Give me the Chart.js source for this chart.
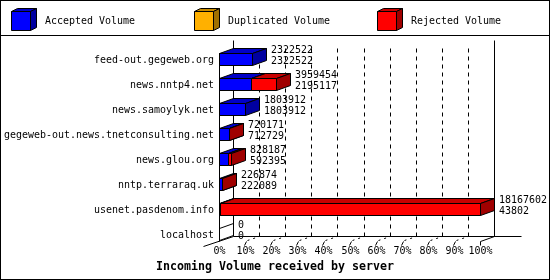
<!DOCTYPE html>
<html><head><meta charset="utf-8">
<script src="https://cdn.jsdelivr.net/npm/chart.js@4.4.1/dist/chart.umd.min.js"></script>
<style>html,body{margin:0;padding:0;background:#fff;}canvas{display:block;}</style>
</head><body>
<canvas id="c" width="550" height="280"></canvas>
<script>
const categories = ['feed-out.gegeweb.org','news.nntp4.net','news.samoylyk.net','gegeweb-out.news.tnetconsulting.net','news.glou.org','nntp.terraraq.uk','usenet.pasdenom.info','localhost'];
const totalVolume = [2322522, 3959454, 1803912, 720171, 828187, 226874, 18167602, 0];
const acceptedVolume = [2322522, 2195117, 1803912, 712729, 592395, 222089, 43802, 0];
const duplicatedVolume = [0, 0, 0, 0, 0, 0, 0, 0];
const rejectedVolume = [0, 1764337, 0, 7442, 235792, 4785, 18123800, 0];
const seriesLabels = ['Accepted Volume', 'Duplicated Volume', 'Rejected Volume'];
const tickLabels = ['0%','10%','20%','30%','40%','50%','60%','70%','80%','90%','100%'];
const axisTitle = 'Incoming Volume received by server';

const FRONT = ['#0000ff', '#ffb000', '#ff0000'];
const TOP = ['#0000c8', '#c88c00', '#c80000'];
const SIDE = ['#0000a0', '#a07000', '#a00000'];
const DX = 14, DY = -5;
const maxTotal = Math.max(...totalVolume);

function poly(ctx, pts, fill) {
  ctx.beginPath();
  pts.forEach((p, k) => k ? ctx.lineTo(p[0] + .5, p[1] + .5) : ctx.moveTo(p[0] + .5, p[1] + .5));
  ctx.closePath();
  if (fill) { ctx.fillStyle = fill; ctx.fill(); }
  ctx.strokeStyle = '#000'; ctx.lineWidth = 1; ctx.setLineDash([]); ctx.stroke();
}
function seg(ctx, x0, y0, x1, y1, dash) {
  ctx.beginPath();
  ctx.moveTo(x0 + .5, y0 + .5); ctx.lineTo(x1 + .5, y1 + .5);
  ctx.strokeStyle = '#000'; ctx.lineWidth = 1; ctx.setLineDash(dash || []);
  ctx.stroke(); ctx.setLineDash([]);
}
function box(ctx, x0, x1, yt, yb, i, dx, dy) {
  poly(ctx, [[x0, yt], [x1, yt], [x1, yb], [x0, yb]], FRONT[i]);
  poly(ctx, [[x0, yt], [x0 + dx, yt + dy], [x1 + dx, yt + dy], [x1, yt]], TOP[i]);
  poly(ctx, [[x1, yt], [x1 + dx, yt + dy], [x1 + dx, yb + dy], [x1, yb]], SIDE[i]);
}
// monospace text, 6px per character (or 7 for bold), drawn slightly condensed
function txt(ctx, s, x, y, align, bold) {
  const size = bold ? 12.5 : 11;
  const cw = bold ? 7 : 6;
  ctx.save();
  ctx.font = (bold ? 'bold ' : '') + size + 'px "DejaVu Sans Mono", monospace';
  ctx.textBaseline = 'middle';
  ctx.textAlign = 'left';
  const w = ctx.measureText(s).width;
  const target = s.length * cw;
  const sx = target / w;
  let left = x;
  if (align === 'right') left = x - target;
  else if (align === 'center') left = x - target / 2;
  ctx.translate(left, y);
  ctx.scale(sx, 1);
  ctx.fillStyle = '#000';
  ctx.fillText(s, 0, 0);
  ctx.restore();
}

const plugin3d = {
  id: 'plugin3d',
  beforeDraw(chart) {
    const ctx = chart.ctx;
    ctx.save();
    ctx.fillStyle = '#fff'; ctx.fillRect(0, 0, 550, 280);
    ctx.strokeStyle = '#000'; ctx.lineWidth = 1;
    ctx.strokeRect(0.5, 0.5, 549, 279);
    seg(ctx, 0, 35, 549, 35);
    chart.data.datasets.forEach((ds, i) => {
      const lx = 11 + i * 183;
      box(ctx, lx, lx + 19, 11, 30, i, 6, -3);
      txt(ctx, ds.label, lx + 34, 21, 'left');
    });
    ctx.restore();
  },
  beforeDatasetsDraw(chart) {
    const ctx = chart.ctx;
    const xs = chart.scales.x;
    const ca = chart.chartArea;
    ctx.save();
    const fx = k => Math.round(xs.getPixelForValue(maxTotal * k / 10));
    const floorY = 241;
    const backTop = 40;
    const x0 = fx(0), x10 = fx(10);
    // back wall
    seg(ctx, x0 + DX, backTop, x0 + DX, floorY + DY);
    seg(ctx, x10 + DX, backTop, x10 + DX, floorY + DY);
    for (let k = 1; k < 10; k++) {
      seg(ctx, fx(k) + DX, backTop + 8, fx(k) + DX, floorY + DY, [4, 4]);
    }
    // floor
    seg(ctx, x0 + DX, floorY + DY, 521, floorY + DY);
    seg(ctx, x0 - 16, floorY + 5, x0 + DX, floorY + DY);
    for (let k = 1; k < 10; k++) {
      const x = fx(k);
      seg(ctx, x - 1, floorY + 4, x + 1, floorY);
      seg(ctx, x + 2, floorY - 1, x + DX, floorY + DY, [2, 4]);
    }
    seg(ctx, x10, floorY, x10, floorY + 4);
    seg(ctx, x10, floorY, x10 + DX, floorY + DY);
    // front left axis
    seg(ctx, x0, Math.round(ca.top) + 6, x0, floorY);
    // bars
    const metas = chart.data.datasets.map((d, i) => chart.getDatasetMeta(i));
    categories.forEach((c, j) => {
      const yc = metas[0].data[j].y;
      const yt = Math.round(yc - 6), yb = yt + 12;
      if (totalVolume[j] === 0) {
        const bx = Math.round(metas[0].data[j].base);
        poly(ctx, [[bx, yt], [bx + DX, yt + DY], [bx + DX, yb + DY], [bx, yb]], null);
        return;
      }
      metas.forEach((m, i) => {
        const v = chart.data.datasets[i].data[j];
        if (!(v > 0)) return;
        const el = m.data[j];
        box(ctx, Math.round(el.base), Math.round(el.x), yt, yb, i, DX, DY);
      });
    });
    ctx.restore();
    return false;
  },
  afterDraw(chart) {
    const ctx = chart.ctx;
    const xs = chart.scales.x, ys = chart.scales.y;
    categories.forEach((c, j) => {
      txt(ctx, c, 214, Math.round(ys.getPixelForValue(j)) + 1, 'right');
    });
    categories.forEach((c, j) => {
      const yt = Math.round(ys.getPixelForValue(j) - 6);
      const x = Math.round(xs.getPixelForValue(totalVolume[j])) + DX + 5;
      txt(ctx, String(totalVolume[j]), x, yt - 3, 'left');
      txt(ctx, String(acceptedVolume[j]), x, yt + 8, 'left');
    });
    tickLabels.forEach((t, k) => {
      const x = Math.round(xs.getPixelForValue(maxTotal * k / 10));
      txt(ctx, t, x + 0.5, 251, 'center');
    });
    txt(ctx, axisTitle, 275, 267, 'center', true);
  }
};

new Chart(document.getElementById('c'), {
  type: 'bar',
  data: {
    labels: categories,
    datasets: [
      { label: seriesLabels[0], data: acceptedVolume, backgroundColor: FRONT[0] },
      { label: seriesLabels[1], data: duplicatedVolume, backgroundColor: FRONT[1] },
      { label: seriesLabels[2], data: rejectedVolume, backgroundColor: FRONT[2] }
    ]
  },
  options: {
    indexAxis: 'y',
    responsive: false,
    animation: false,
    devicePixelRatio: 1,
    barThickness: 12,
    layout: { padding: { left: 219, right: 70, top: 46.5, bottom: 33.5 } },
    plugins: { legend: { display: false }, tooltip: { enabled: false } },
    scales: {
      x: { type: 'linear', min: 0, max: maxTotal, stacked: true, display: false },
      y: { type: 'category', stacked: true, display: false, offset: true }
    }
  },
  plugins: [plugin3d]
});
</script>
</body></html>
